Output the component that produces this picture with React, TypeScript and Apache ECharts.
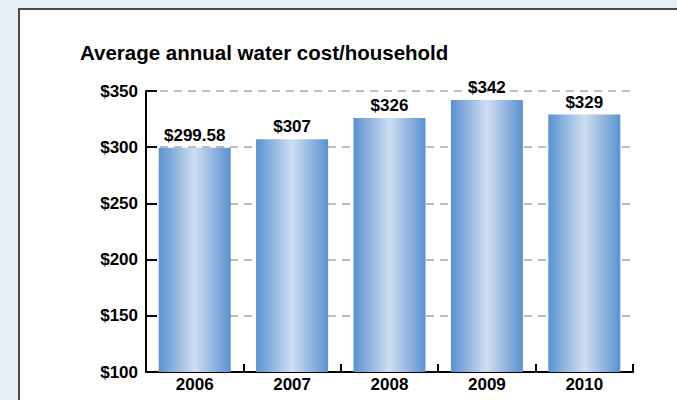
import React, { useEffect, useRef } from "react";
import * as echarts from "echarts";

const categories = ["2006", "2007", "2008", "2009", "2010"];
const values = [299.58, 307, 326, 342, 329];
const valueLabels = ["$299.58", "$307", "$326", "$342", "$329"];
const title = "Average annual water cost/household";

const FONT = "'Liberation Sans', Arial, sans-serif";

export default function App() {
  const ref = useRef<HTMLDivElement>(null);
  useEffect(() => {
    document.body.style.margin = "0";
    const chart = echarts.init(ref.current!, null, { renderer: "svg" });
    const barColor = new echarts.graphic.LinearGradient(0, 0, 1, 0, [
      { offset: 0, color: "#5a92d1" },
      { offset: 0.5, color: "#d0ddf2" },
      { offset: 1, color: "#5a92d1" },
    ]);
    chart.setOption({
      animation: false,
      backgroundColor: "#e8eef8",
      graphic: [
        {
          type: "rect",
          shape: { x: 19, y: 9, width: 700, height: 420 },
          style: { fill: "#ffffff", stroke: "#4a4a4a", lineWidth: 2 },
          z: -10,
        },
        {
          type: "text",
          left: 80,
          top: 42,
          style: {
            text: title,
            font: `bold 20.5px ${FONT}`,
            fill: "#000000",
          },
        },
      ],
      grid: { left: 146, right: 44, top: 91, bottom: 28, containLabel: false },
      xAxis: {
        type: "category",
        data: categories,
        axisLine: { show: true, lineStyle: { color: "#000", width: 2 } },
        axisTick: { show: true, inside: true, length: 8, lineStyle: { color: "#000", width: 2 } },
        axisLabel: { color: "#000", fontFamily: FONT, fontWeight: "bold", fontSize: 17, margin: 4 },
        splitLine: { show: false },
      },
      yAxis: {
        type: "value",
        min: 100,
        max: 350,
        interval: 50,
        axisLine: { show: true, lineStyle: { color: "#000", width: 2 } },
        axisTick: { show: true, inside: true, length: 11, lineStyle: { color: "#000", width: 2 } },
        axisLabel: {
          color: "#000",
          fontFamily: FONT,
          fontWeight: "bold",
          fontSize: 17,
          margin: 8,
          formatter: (v: number) => "$" + v,
        },
        splitLine: {
          show: true,
          lineStyle: { color: "#a8a8a8", width: 1.5, type: [8, 6] },
        },
      },
      series: [
        {
          type: "bar",
          data: values,
          barWidth: 72,
          itemStyle: { color: barColor },
          label: {
            show: true,
            position: "top",
            distance: 4,
            color: "#000",
            fontFamily: FONT,
            fontWeight: "bold",
            fontSize: 17,
            formatter: (p: any) => valueLabels[p.dataIndex],
          },
        },
      ],
    });
    return () => chart.dispose();
  }, []);
  return <div ref={ref} style={{ width: 677, height: 400 }} />;
}
